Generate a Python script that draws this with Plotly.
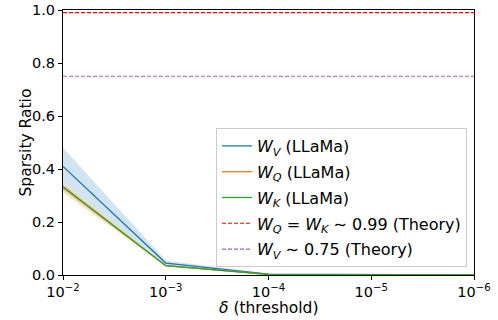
import plotly.graph_objects as go

delta = [1e-2, 1e-3, 1e-4, 1e-5, 1e-6]
wv = [0.41, 0.045, 0.003, 0.0005, 0.0002]
wv_lo = [0.35, 0.036, 0.002, 0.0003, 0.0001]
wv_hi = [0.48, 0.055, 0.005, 0.0008, 0.0003]
wq = [0.33, 0.035, 0.002, 0.0003, 0.0001]
wq_lo = [0.31, 0.032, 0.0015, 0.0002, 0.0001]
wq_hi = [0.35, 0.038, 0.0025, 0.0004, 0.0002]
wk = [0.333, 0.035, 0.002, 0.0003, 0.0001]
wk_lo = [0.32, 0.033, 0.0015, 0.0002, 0.0001]
wk_hi = [0.345, 0.037, 0.0025, 0.0004, 0.0002]
theory_qk = 0.99
theory_v = 0.75
tick_vals = [1e-2, 1e-3, 1e-4, 1e-5, 1e-6]
tick_text = ["10<sup>−2</sup>", "10<sup>−3</sup>", "10<sup>−4</sup>", "10<sup>−5</sup>", "10<sup>−6</sup>"]
y_ticks = [0, 0.2, 0.4, 0.6, 0.8, 1.0]
y_text = ["0.0", "0.2", "0.4", "0.6", "0.8", "1.0"]

blue = "#1f77b4"; orange = "#ff7f0e"; green = "#2ca02c"

W, H = 498, 320
ML, MR, MT, MB = 63, 24, 10, 45
PW, PH = W - ML - MR, H - MT - MB

fig = go.Figure()

def band(lo, hi, color):
    fig.add_trace(go.Scatter(x=delta, y=hi, mode="lines", line=dict(width=0), showlegend=False, hoverinfo="skip"))
    fig.add_trace(go.Scatter(x=delta, y=lo, mode="lines", line=dict(width=0), fill="tonexty",
                             fillcolor=color, showlegend=False, hoverinfo="skip"))

band(wv_lo, wv_hi, "rgba(31,119,180,0.2)")
band(wq_lo, wq_hi, "rgba(255,127,14,0.2)")
band(wk_lo, wk_hi, "rgba(44,160,44,0.2)")

fig.add_trace(go.Scatter(x=delta, y=wv, mode="lines", line=dict(color=blue, width=1.3),
                         legendgroup="g1", name="<i>W<sub>V</sub></i> (LLaMa)"))
fig.add_trace(go.Scatter(x=delta, y=wq, mode="lines", line=dict(color=orange, width=1.3),
                         legendgroup="g2", name="<i>W<sub>Q</sub></i> (LLaMa)"))
fig.add_trace(go.Scatter(x=delta, y=wk, mode="lines", line=dict(color=green, width=1.3),
                         legendgroup="g3", name="<i>W<sub>K</sub></i> (LLaMa)"))
fig.add_trace(go.Scatter(x=[delta[0], delta[-1]], y=[theory_qk, theory_qk], mode="lines",
                         line=dict(color="#ff0000", width=1.1, dash="4px,2px"), legendgroup="g4",
                         name="<i>W<sub>Q</sub></i> = <i>W<sub>K</sub></i> ∼ 0.99 (Theory)"))
fig.add_trace(go.Scatter(x=[delta[0], delta[-1]], y=[theory_v, theory_v], mode="lines",
                         line=dict(color="#9467bd", width=1.1, dash="4px,2px"), legendgroup="g5",
                         name="<i>W<sub>V</sub></i> ∼ 0.75 (Theory)"))

fig.update_layout(
    width=W, height=H,
    margin=dict(l=ML, r=MR, t=MT, b=MB, autoexpand=False),
    plot_bgcolor="white", paper_bgcolor="white",
    font=dict(family="DejaVu Sans", size=14.5, color="black"),
    showlegend=True,
    legend=dict(x=(467 - ML) / PW, y=(H - MB - 267) / PH, xanchor="right", yanchor="bottom",
                traceorder="grouped",
                bgcolor="rgba(255,255,255,0.8)", bordercolor="#cccccc", borderwidth=1,
                font=dict(size=16), tracegroupgap=2, itemwidth=30),
    annotations=[
        dict(text="<i>δ</i> (threshold)", xref="paper", yref="paper",
             x=0.5, y=-(308 - (H - MB)) / PH, xanchor="center", yanchor="middle",
             showarrow=False, font=dict(size=15.5)),
        dict(text="Sparsity Ratio", xref="paper", yref="paper", textangle=-90,
             x=-(ML - 25) / PW, y=0.5, xanchor="center", yanchor="middle",
             showarrow=False, font=dict(size=15.5)),
    ],
)
fig.update_xaxes(type="log", range=[-2, -6], tickvals=tick_vals, ticktext=tick_text,
                 showline=True, linecolor="black", linewidth=1, mirror=True, automargin=False,
                 ticks="outside", ticklen=4, tickcolor="black", showgrid=False, zeroline=False,
                 tickfont=dict(size=14.5))
fig.update_yaxes(range=[0, 1], tickvals=y_ticks, ticktext=y_text,
                 showline=True, linecolor="black", linewidth=1, mirror=True, automargin=False,
                 ticks="outside", ticklen=4, tickcolor="black", showgrid=False, zeroline=False,
                 tickfont=dict(size=14.5))

fig.write_html("out.html", config={"displayModeBar": False},
               post_script="document.body.style.margin='0';")
